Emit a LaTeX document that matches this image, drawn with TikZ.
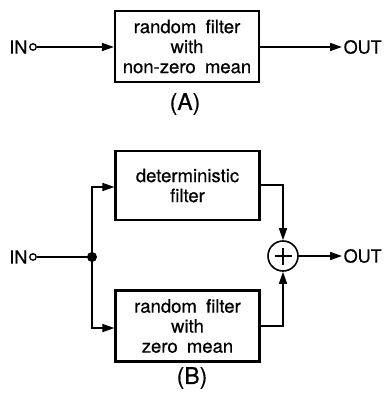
\documentclass[tikz,border=0pt]{standalone}
\usepackage{fontspec}
\setmainfont[FakeBold=0.5,WordSpace=1.8]{TeX Gyre Heros}
\usetikzlibrary{arrows.meta}
\begin{document}
\begin{tikzpicture}[x=1pt,y=-1pt,
  blk/.style={draw,line width=2.2pt,minimum width=144pt,minimum height=71pt,align=center,
    font=\fontsize{18.5}{20}\selectfont,inner sep=0pt},
  wire/.style={line width=1.6pt},
  arr/.style={wire,-{Triangle[length=12pt,width=8pt]}},
  port/.style={draw,circle,line width=1.3pt,inner sep=0pt,minimum size=6.5pt,fill=white},
  lbl/.style={font=\fontsize{18}{20}\selectfont,inner sep=1.5pt},
  figcap/.style={font=\fontsize{23}{26}\selectfont,inner sep=0pt}]
\useasboundingbox (0,0) rectangle (384,395);
% ---------- (A)
\node[port] (ina) at (33,47) {};
\node[lbl,anchor=east] (inatxt) at (ina.west) {IN};
\node[blk] (fa) at (187,46.5) {random filter\\with\\non-zero mean};
\node[lbl,anchor=west] (outa) at (342,47) {OUT};
\draw[arr] (ina.east) -- (fa.west |- ina.east);
\draw[arr] (fa.east |- outa.west) -- (outa.west);
\node[figcap] (capa) at (185,104) {(A)};
% ---------- (B)
\node[port] (inb) at (33,257) {};
\node[lbl,anchor=east] (inbtxt) at (inb.west) {IN};
\fill (92,257) circle (5pt);
\coordinate (br) at (92,257);
\node[blk,minimum height=69pt] (det) at (187.5,185.5) {deterministic\\filter};
\node[blk,minimum height=71pt] (rnd) at (187.5,326) {random filter\\with\\zero mean};
\node[draw,circle,line width=1.6pt,minimum size=30pt,inner sep=0pt] (sum) at (283,256) {};
\draw[line width=1.6pt] ([xshift=-8.5pt]sum.center) -- ([xshift=8.5pt]sum.center)
  ([yshift=-8.5pt]sum.center) -- ([yshift=8.5pt]sum.center);
\node[lbl,anchor=west] (outb) at (342,256) {OUT};
\draw[wire] (inb.east) -- (br);
\draw[arr] (br) |- (det.west |- 0,187);
\draw[arr] (br) |- (rnd.west |- 0,328);
\draw[arr] (det.east |- 0,185) -| (sum.north);
\draw[arr] (rnd.east |- 0,326) -| (sum.south);
\draw[arr] (sum.east) -- (outb.west);
\node[figcap] (capb) at (192,378) {(B)};
\end{tikzpicture}
\end{document}
